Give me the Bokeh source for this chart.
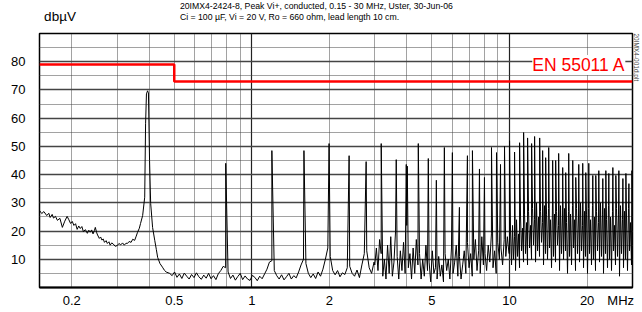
import numpy as np
from bokeh.plotting import figure
from bokeh.layouts import column
from bokeh.models import FixedTicker, Grid, Label, Range1d, Title
from bokeh.core.properties import value
from bokeh.embed import file_html
from bokeh.resources import INLINE

# ---------------- data ----------------
limit_freq = [0.15, 0.5, 0.5, 30.0]
limit_db = [79.0, 79.0, 73.0, 73.0]

low_freq = [0.150, 0.153, 0.156, 0.160, 0.163, 0.165, 0.168, 0.170, 0.173, 0.176,
            0.180, 0.184, 0.188, 0.192, 0.195, 0.198, 0.201, 0.204, 0.207, 0.210,
            0.213, 0.216, 0.219, 0.222, 0.226, 0.230, 0.233, 0.236, 0.239, 0.242,
            0.245, 0.247, 0.250, 0.252, 0.256, 0.259, 0.262, 0.265, 0.268, 0.272,
            0.275, 0.279, 0.282, 0.286, 0.290, 0.295, 0.301, 0.305, 0.310, 0.315,
            0.320, 0.325, 0.329, 0.334, 0.340, 0.345, 0.351, 0.356, 0.360, 0.366,
            0.370, 0.377, 0.384, 0.387, 0.390, 0.394, 0.397, 0.401, 0.405, 0.412,
            0.420, 0.426, 0.431, 0.440, 0.450, 0.458, 0.465]
low_db = [27.3, 26.2, 26.9, 25.5, 26.3, 24.8, 25.9, 24.6, 25.2, 23.8,
          24.5, 21.3, 23.5, 25.2, 24.0, 22.7, 23.4, 22.0, 22.6, 20.6,
          21.8, 20.9, 21.6, 19.8, 20.5, 19.2, 20.3, 19.6, 20.4, 19.0,
          20.2, 21.3, 19.4, 18.6, 17.4, 17.9, 16.8, 17.2, 16.0, 16.6,
          15.6, 16.2, 15.0, 15.8, 15.4, 14.6, 14.9, 15.6, 15.1, 15.8,
          15.0, 15.7, 15.6, 16.3, 16.0, 17.1, 16.7, 18.2, 19.5, 21.0,
          22.7, 25.5, 32.0, 58.0, 68.6, 69.7, 69.0, 45.0, 29.8, 21.3,
          16.7, 13.5, 10.7, 8.5, 7.2, 6.1, 5.5]

sweep_b = (0.48, 2.98)
floor_b = [5.0, 4.2, 5.5, 3.6, 4.8, 3.2, 5.1, 4.0, 3.0, 4.6, 3.5,
           5.2, 3.8, 2.9, 4.4, 3.3, 5.0, 3.1, 4.2, 2.8, 4.9,
           6.0, 7.5, 7.0, 5.5,
           3.2, 4.4, 2.6, 3.9, 5.0, 2.8, 4.1, 3.0, 2.5, 4.3, 3.6, 2.4, 4.0, 3.1, 4.8,
           6.5, 9.0, 9.5, 6.0, 4.2,
           3.0, 4.5, 2.7, 3.8, 5.0, 3.0, 4.2, 3.4, 5.5,
           8.0, 10.0, 8.5, 5.0,
           3.5, 4.8, 3.2, 5.5, 4.0, 6.5,
           10.0, 14.0, 11.0, 6.0,
           4.5, 6.0, 3.8, 5.2, 4.6,
           7.0, 7.5, 5.0,
           4.0, 6.2, 3.5, 8.0,
           12.0, 13.0, 7.0,
           5.0, 9.0]

sweep_c = (3.0, 9.95)
floor_c = [8, 14, 6, 17, 12, 4, 10, 3, 15, 5,
           18, 4, 9, 20, 11, 3, 13, 6, 16, 5,
           22, 7, 12, 3, 14, 5, 17, 8, 12, 3,
           10, 4, 15, 6, 9, 2, 13, 5, 7, 3,
           11, 4, 8, 2, 12, 6, 10, 3, 14, 5,
           9, 15, 4, 11, 3, 8, 13, 5, 16, 7,
           12, 4, 10, 17, 6, 13, 5, 18, 8, 12,
           6, 15, 9, 19, 7, 13, 5, 16, 10, 14,
           8, 17, 11, 18, 12]

sweep_d = (10.0, 30.0)
floor_d = [12, 20, 8, 22, 10, 18, 6, 24, 11, 19, 7, 25, 13, 21, 9, 26, 12, 23, 8, 27,
           14, 22, 10, 28, 15, 24, 9, 30, 13, 25, 11, 27, 16, 23, 8, 29, 12, 26, 10, 28,
           14, 24, 7, 30, 11, 26, 9, 27, 15, 22, 6, 29, 12, 25, 10, 28, 13, 23, 5, 27,
           11, 26, 8, 29, 14, 24, 6, 28, 12, 25, 9, 30, 13, 22, 7, 27, 11, 26, 5, 28,
           12, 24, 8, 29, 10, 25, 6, 27, 13, 23, 9, 30, 11, 26, 5, 28, 12, 24, 7, 29,
           10, 25, 6, 27, 13, 22, 8, 28, 11, 26, 4, 29, 12, 24, 7, 27, 10, 25, 6, 28,
           13, 23, 8, 26]

peak_freq = [0.792, 1.196, 1.593, 1.994, 2.385, 2.777, 3.177, 3.634, 3.974, 4.01,
             4.425, 4.839, 5.200, 5.586, 6.001, 6.390, 6.864, 7.178, 7.643, 7.992,
             8.511, 8.901, 9.226, 9.561, 10.0, 10.46, 10.94, 11.34, 11.75, 12.18,
             12.51, 13.09, 13.44, 13.81, 14.19, 14.70, 15.10, 15.51, 16.08, 16.52,
             16.97, 17.59, 18.07, 18.56, 19.23, 19.76, 20.30, 21.04, 21.61, 22.20,
             23.01, 23.64, 24.28, 25.17, 25.85, 26.56, 27.53, 28.28, 29.05, 29.84]
peak_db = [44.0, 48.5, 48.5, 51.0, 46.7, 44.6, 51.0, 45.3, 43.6, 43.0,
           51.0, 45.7, 38.0, 49.6, 47.8, 28.4, 46.7, 48.5, 42.0, 39.0,
           49.6, 47.8, 43.6, 50.0, 52.0, 48.0, 51.3, 54.9, 53.0, 51.0,
           53.5, 53.0, 48.5, 46.0, 49.6, 45.0, 45.0, 47.5, 42.5, 40.7,
           47.5, 45.0, 39.0, 43.6, 44.0, 40.7, 44.0, 39.7, 39.7, 41.4,
           38.6, 41.4, 40.4, 42.5, 39.7, 41.4, 38.6, 40.4, 36.8, 41.4]

x_ticks = [0.2, 0.5, 1, 2, 5, 10, 20]
x_tick_labels = ["0.2", "0.5", "1", "2", "5", "10", "20"]
unit_pos = 27
y_ticks = [10, 20, 30, 40, 50, 60, 70, 80]
x_major_grid = [1, 10]
x_minor_grid = [0.2, 0.3, 0.4, 0.5, 0.6, 0.7, 0.8, 0.9, 2, 3, 4, 5, 6, 7, 8, 9, 20]
y_minor_grid = [5, 15, 25, 35, 45, 55, 65, 75, 85]

title1 = "20IMX4-2424-8, Peak Vi+, conducted, 0.15 - 30 MHz, Uster, 30-Jun-06"
title2 = "Ci = 100 \u00b5F, Vi = 20 V, Ro = 660 ohm, lead length 10 cm."
unit_label = "db\u00b5V"
limit_label = "EN 55011 A"
side_label = "20IMX4-001d.plt"

def sweep(rng, vals):
    return np.geomspace(rng[0], rng[1], len(vals)), np.array(vals, dtype=float)

fb, db_b = sweep(sweep_b, floor_b)
fc, db_c = sweep(sweep_c, floor_c)
fd, db_d = sweep(sweep_d, floor_d)
tf = np.concatenate([low_freq, fb, fc, fd, peak_freq])
tv = np.concatenate([low_db, db_b, db_c, db_d, peak_db])
order = np.argsort(tf, kind="stable")
tf, tv = tf[order], tv[order]

FONT = "Liberation Sans"
W = 642
HEAD_H = 32
MAIN_H = 280

# ---------------- header (titles) ----------------
head = figure(width=W, height=HEAD_H, x_range=Range1d(0, W), y_range=Range1d(0, HEAD_H),
              x_axis_location=None, y_axis_location=None, output_backend="svg",
              toolbar_location=None, min_border=0)
head.xgrid.visible = False
head.ygrid.visible = False
head.outline_line_color = None
head.background_fill_color = "white"
head.border_fill_color = "white"
head.text(x=[152, 152], y=[HEAD_H - 5, HEAD_H - 16.5], text=[title1, title2],
          text_font=value(FONT), text_font_size="8.7px", text_baseline="middle",
          text_align="left", text_color="black")
head.text(x=[5], y=[HEAD_H - 16], text=[unit_label], text_font=value(FONT),
          text_font_size="13.5px", text_baseline="middle", text_align="left",
          text_color="black")

# ---------------- main plot ----------------
p = figure(width=W, height=MAIN_H, x_axis_type="log",
           x_range=Range1d(0.15, 30), y_range=Range1d(0, 90),
           output_backend="svg", toolbar_location=None,
           min_border_left=39, min_border_right=10, min_border_top=1, min_border_bottom=25)
p.background_fill_color = "white"
p.border_fill_color = "white"
p.outline_line_color = "black"
p.outline_line_width = 1.5

p.xgrid.ticker = FixedTicker(ticks=x_major_grid)
p.xgrid.grid_line_color = "#222222"
p.xgrid.grid_line_width = 1.2
p.ygrid.ticker = FixedTicker(ticks=y_ticks)
p.ygrid.grid_line_color = "#444444"
p.ygrid.grid_line_width = 1.3
p.add_layout(Grid(dimension=0, ticker=FixedTicker(ticks=x_minor_grid),
                  grid_line_color="#444444", grid_line_dash="1 1", grid_line_width=1))
p.add_layout(Grid(dimension=1, ticker=FixedTicker(ticks=y_minor_grid),
                  grid_line_color="#444444", grid_line_dash="1 1", grid_line_width=1))

p.xaxis.ticker = FixedTicker(ticks=x_ticks + [unit_pos])
overrides = {t: s for t, s in zip(x_ticks, x_tick_labels)}
overrides[unit_pos] = "MHz"
p.xaxis.major_label_overrides = overrides
p.xaxis.major_tick_line_color = None
p.xaxis.minor_tick_line_color = None
p.xaxis.major_tick_out = 0
p.xaxis.major_tick_in = 0
p.xaxis.minor_tick_out = 0
p.xaxis.axis_line_width = 2
p.xaxis.major_label_standoff = 5
p.xaxis.major_label_text_font_size = "13px"
p.xaxis.major_label_text_font = FONT
p.xaxis.major_label_text_color = "black"

p.yaxis.ticker = FixedTicker(ticks=y_ticks)
p.yaxis.major_tick_line_color = None
p.yaxis.minor_tick_line_color = None
p.yaxis.major_tick_out = 0
p.yaxis.major_tick_in = 0
p.yaxis.minor_tick_out = 0
p.yaxis.axis_line_color = None
p.yaxis.major_label_standoff = 14
p.yaxis.major_label_text_font_size = "13px"
p.yaxis.major_label_text_font = FONT
p.yaxis.major_label_text_color = "black"

p.line(tf, tv, line_color="black", line_width=1)
p.line(limit_freq, limit_db, line_color="#ff0000", line_width=2.5)

p.add_layout(Label(x=12.25, y=75.3, text=limit_label, text_color="#ff0000",
                   text_font=FONT, text_font_size="17.5px", text_baseline="bottom",
                   background_fill_color="white", background_fill_alpha=1.0))

p.add_layout(Title(text=side_label, align="left", text_font=FONT, text_font_size="6.5px",
                   text_font_style="normal", standoff=1), "right")

layout = column(head, p, spacing=0)
out = file_html(layout, INLINE)
open("out.html", "w").write(out)
